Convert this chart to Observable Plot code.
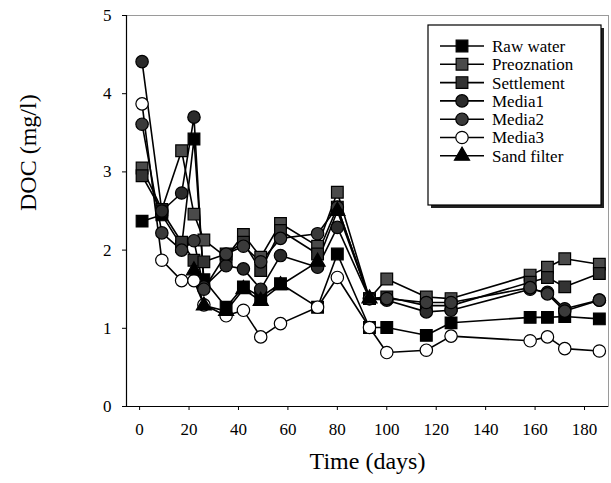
<!DOCTYPE html>
<html><head><meta charset="utf-8">
<script src="https://cdn.jsdelivr.net/npm/d3@7"></script>
<script src="https://cdn.jsdelivr.net/npm/@observablehq/plot@0.6"></script>
<style>
body{margin:0;background:#fff}
#wrap{position:relative;width:611px;height:483px}
#legend{position:absolute;left:0;top:0;pointer-events:none;font-family:'Liberation Serif',serif}
</style>
</head><body><div id="wrap"></div>
<script>
// sampling days
const days = [1, 9, 17, 22, 26, 35, 42, 49, 57, 72, 80, 93, 100, 116, 126, 158, 165, 172, 186];
// DOC (mg/l) per series
const rawWater    = [2.37, 2.45, 2.05, 3.42, 1.62, 1.27, 1.53, 1.40, 1.57, 1.27, 1.95, 1.01, 1.01, 0.91, 1.07, 1.14, 1.14, 1.15, 1.12];
const preozonation= [3.05, 2.52, 3.27, 2.46, 2.13, 1.91, 2.20, 1.91, 2.34, 2.05, 2.74, 1.38, 1.63, 1.40, 1.38, 1.68, 1.78, 1.89, 1.82];
const settlement  = [2.95, 2.50, 2.10, 1.87, 1.85, 1.95, 2.10, 1.74, 2.25, 1.95, 2.55, 1.38, 1.40, 1.29, 1.29, 1.59, 1.65, 1.53, 1.70];
const media1      = [4.41, 2.50, 2.73, 3.70, 1.53, 1.80, 1.76, 1.50, 1.93, 1.78, 2.29, 1.38, 1.36, 1.21, 1.23, 1.50, 1.46, 1.25, 1.36];
const media2      = [3.61, 2.22, 2.00, 2.12, 1.50, 1.95, 2.05, 1.85, 2.15, 2.21, 2.55, 1.38, 1.38, 1.33, 1.33, 1.52, 1.44, 1.22, 1.36];
const media3      = [3.87, 1.87, 1.61, 1.61, 1.30, 1.16, 1.23, 0.89, 1.06, 1.27, 1.65, 1.01, 0.69, 0.72, 0.90, 0.84, 0.89, 0.74, 0.71];
const sandFilter  = [null, null, null, 1.74, 1.29, 1.22, 1.50, 1.35, 1.55, 1.85, 2.50, 1.38, null, null, null, null, null, null, null];

const seriesNames  = ["Raw water", "Preoznation", "Settlement", "Media1", "Media2", "Media3", "Sand filter"];
const seriesValues = [rawWater, preozonation, settlement, media1, media2, media3, sandFilter];
const seriesSymbol = ["square", "square", "square", "circle", "circle", "circle", "triangle"];
const seriesFill   = ["#000", "#4a4a4a", "#333", "#2b2b2b", "#3a3a3a", "#fff", "#000"];
const symbolR      = {square: 6.6, circle: 6.2, triangle: 5.6};

const xTicks = [0, 20, 40, 60, 80, 100, 120, 140, 160, 180];
const yTicks = [0, 1, 2, 3, 4, 5];
const xDomain = [-5.3, 189.7];
const yDomain = [0, 5];

const rows = seriesNames.flatMap((name, i) =>
  days.map((d, j) => ({series: name, day: d, doc: seriesValues[i][j]})).filter(r => r.doc != null));

const font = "'Liberation Serif', 'Times New Roman', serif";

const chart = Plot.plot({
  width: 611, height: 483,
  marginLeft: 126, marginRight: 3, marginTop: 15, marginBottom: 77,
  style: {fontFamily: font, fontSize: "17px", background: "white", color: "black"},
  x: {domain: xDomain},
  y: {domain: yDomain},
  marks: [
    Plot.frame({stroke: "#9a9a9a", strokeWidth: 1}),
    Plot.ruleX([xDomain[0]], {stroke: "black", strokeWidth: 1.2}),
    Plot.ruleY([yDomain[0]], {stroke: "black", strokeWidth: 1.2}),
    Plot.axisX({ticks: xTicks, tickSize: 4, tickPadding: 12, tickFormat: "d", label: null, fontSize: 17}),
    Plot.axisY({ticks: yTicks, tickSize: 4, tickPadding: 11, tickFormat: "d", label: null, fontSize: 17}),
    Plot.text(["Time (days)"], {frameAnchor: "bottom", dy: 62, fontSize: 24, fontFamily: font}),
    Plot.text(["DOC (mg/l)"], {frameAnchor: "left", dx: -98, rotate: -90, fontSize: 24, fontFamily: font}),
    Plot.line(rows, {x: "day", y: "doc", z: "series", stroke: "black", strokeWidth: 1.6}),
    ...seriesNames.map((name, i) => Plot.dot(rows.filter(r => r.series === name), {
      x: "day", y: "doc", symbol: seriesSymbol[i], r: symbolR[seriesSymbol[i]],
      fill: seriesFill[i], stroke: "black", strokeWidth: 1.2
    }))
  ]
});
const wrap = document.getElementById("wrap");
wrap.appendChild(chart);

// legend overlay
const svg = d3.select(wrap).append("svg").attr("id", "legend").attr("width", 611).attr("height", 483)
  .attr("font-family", "Liberation Serif");
const bx = 428, by = 25, bw = 173, bh = 180;
svg.append("rect").attr("x", bx + 3).attr("y", by + 3).attr("width", bw).attr("height", bh).attr("fill", "#222");
svg.append("rect").attr("x", bx).attr("y", by).attr("width", bw).attr("height", bh).attr("fill", "white").attr("stroke", "black").attr("stroke-width", 1.2);
const symMap = {square: d3.symbolSquare, circle: d3.symbolCircle, triangle: d3.symbolTriangle};
seriesNames.forEach((name, i) => {
  const cy = by + 21 + i * 18.3;
  const g = svg.append("g");
  g.append("line").attr("x1", bx + 12).attr("x2", bx + 56).attr("y1", cy).attr("y2", cy).attr("stroke", "black").attr("stroke-width", 1.6);
  const r = symbolR[seriesSymbol[i]];
  g.append("path").attr("transform", `translate(${bx + 34},${cy})`)
    .attr("d", d3.symbol(symMap[seriesSymbol[i]], Math.PI * r * r)())
    .attr("fill", seriesFill[i]).attr("stroke", "black").attr("stroke-width", 1.2);
  g.append("text").attr("x", bx + 64).attr("y", cy).attr("dy", "0.35em")
    .attr("font-family", "Liberation Serif").attr("font-size", 17).text(name);
});
</script>
</body></html>
